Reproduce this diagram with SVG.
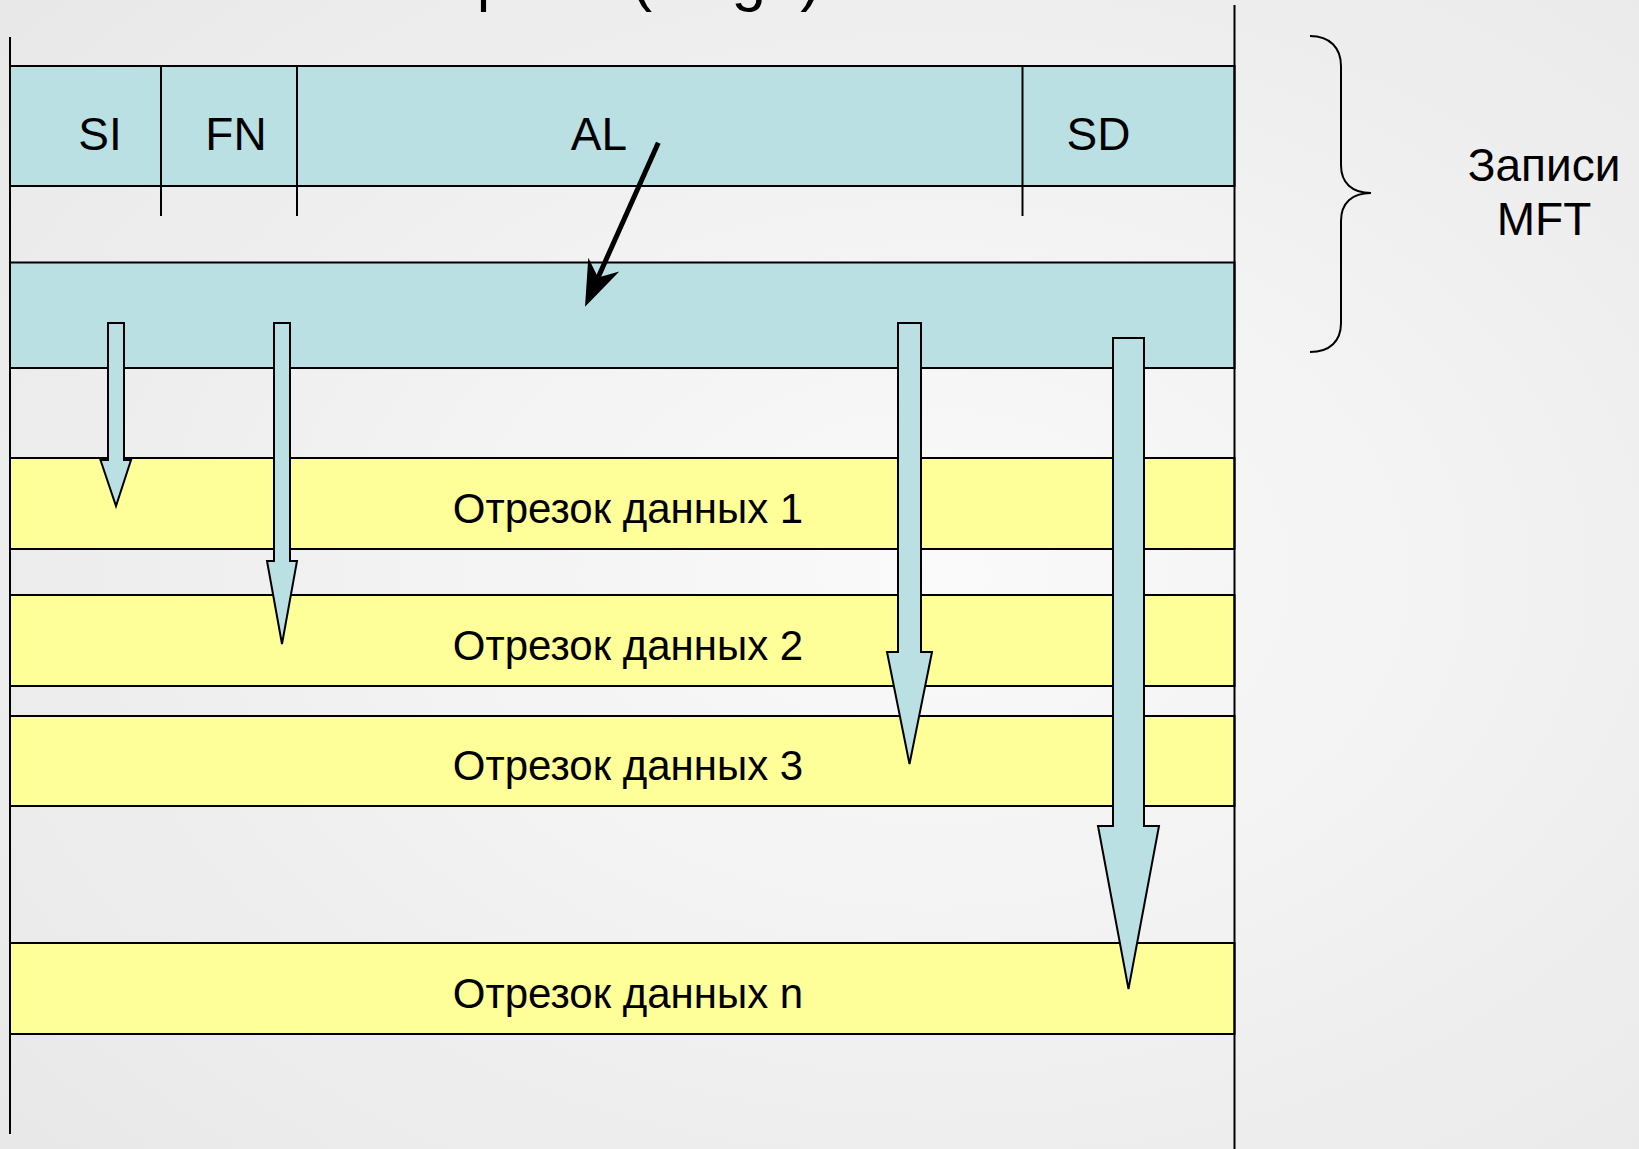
<svg xmlns="http://www.w3.org/2000/svg" width="1639" height="1149" viewBox="0 0 1639 1149">
  <defs>
    <radialGradient id="bg" cx="0.57" cy="0.5" r="0.75">
      <stop offset="0" stop-color="#fafafa"/>
      <stop offset="1" stop-color="#e8e8e8"/>
    </radialGradient>
    <style>
      .txt { font-family: "Liberation Sans", Arial, sans-serif; fill: #000; }
      .label { font-size: 46px; text-anchor: middle; }
      .seg { font-size: 42px; text-anchor: middle; }
      .mft { fill: #bae0e3; stroke: #000; stroke-width: 2; }
      .data { fill: #ffff99; stroke: #000; stroke-width: 2; }
      .rule { stroke: #000; stroke-width: 2; fill: none; }
      .block { fill: #bae0e3; stroke: #000; stroke-width: 2; stroke-linejoin: miter; }
    </style>
  </defs>

  <!-- background -->
  <rect x="0" y="0" width="1639" height="1149" fill="url(#bg)"/>

  <!-- slide heading, running off the top edge -->
  <g id="title">
    <text class="txt" x="-14" y="-1" font-size="62">Очень большой файл (Huge)</text>
  </g>

  <!-- first MFT record: SI | FN | AL | SD -->
  <g id="mft-record-1">
    <rect class="mft" x="10" y="66" width="1224.5" height="120"/>
    <line class="rule" x1="161" y1="66" x2="161" y2="216"/>
    <line class="rule" x1="297" y1="66" x2="297" y2="216"/>
    <line class="rule" x1="1022.5" y1="66" x2="1022.5" y2="216"/>
    <text class="txt label" x="100" y="150">SI</text>
    <text class="txt label" x="236" y="150">FN</text>
    <text class="txt label" x="599" y="150">AL</text>
    <text class="txt label" x="1098.5" y="150">SD</text>
  </g>

  <!-- second MFT record -->
  <g id="mft-record-2">
    <rect class="mft" x="10" y="262.5" width="1224.5" height="105.5"/>
  </g>

  <!-- data runs -->
  <g id="run-1">
    <rect class="data" x="10" y="458" width="1224.5" height="91"/>
    <text class="txt seg" x="628" y="522.5">Отрезок данных 1</text>
  </g>
  <g id="run-2">
    <rect class="data" x="10" y="595" width="1224.5" height="91"/>
    <text class="txt seg" x="628" y="659.5">Отрезок данных 2</text>
  </g>
  <g id="run-3">
    <rect class="data" x="10" y="716" width="1224.5" height="90"/>
    <text class="txt seg" x="628" y="780">Отрезок данных 3</text>
  </g>
  <g id="run-n">
    <rect class="data" x="10" y="943" width="1224.5" height="91"/>
    <text class="txt seg" x="628" y="1007.5">Отрезок данных n</text>
  </g>

  <!-- volume borders -->
  <g id="volume">
    <line class="rule" x1="10" y1="37" x2="10" y2="1134"/>
    <line class="rule" x1="1234.5" y1="5" x2="1234.5" y2="1149"/>
  </g>

  <!-- brace and caption -->
  <g id="mft-brace">
    <path class="rule" d="M1310,36 C1330,36 1341,48 1341,66 L1341,165 C1341,183 1352,193 1371,193 C1352,193 1341,203 1341,221 L1341,323 C1341,341 1330,352 1310,352"/>
    <text class="txt label" x="1544" y="181">Записи</text>
    <text class="txt label" x="1544" y="235">MFT</text>
  </g>

  <!-- pointers -->
  <g id="connectors">
    <!-- attribute list to the next record -->
    <line x1="658.3" y1="142.7" x2="598.1" y2="277.5" stroke="#000" stroke-width="5"/>
    <path d="M585,306.7 L588.3,257.8 L598.1,277.5 L619.3,271.6 Z" fill="#000"/>

    <!-- record entries to their data runs -->
    <path class="block" d="M108,323 H124 V460 H131 L116,506 L100.5,460 H108 Z"/>
    <path class="block" d="M274,323 H290 V561 H297 L282,644 L267,561 H274 Z"/>
    <path class="block" d="M898,323 H921 V652 H932 L909.5,764 L887,652 H898 Z"/>
    <path class="block" d="M1113,338 H1144 V826 H1159 L1128.5,989 L1098,826 H1113 Z"/>
  </g>
</svg>
